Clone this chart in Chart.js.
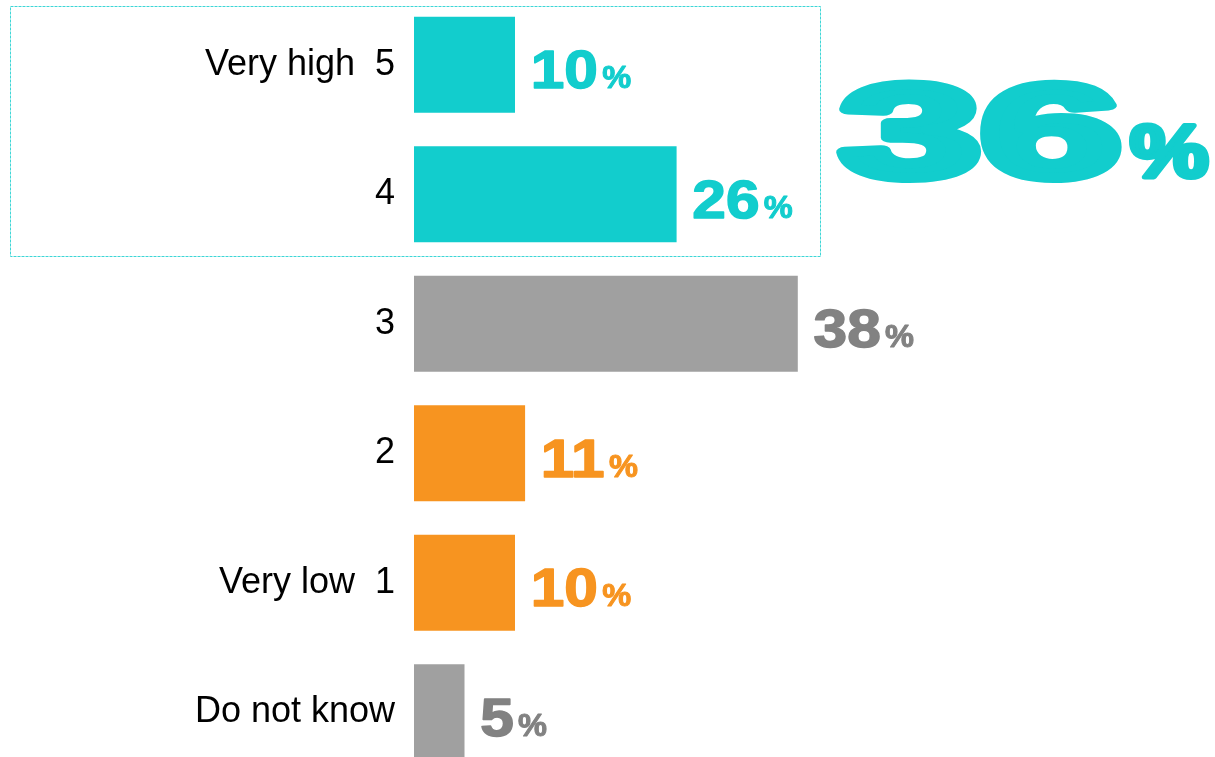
<!DOCTYPE html>
<html>
<head>
<meta charset="utf-8">
<script src="https://cdn.jsdelivr.net/npm/chart.js@4/dist/chart.umd.min.js"></script>
<style>
  html, body { margin: 0; padding: 0; overflow: hidden; background: #fff; }
  canvas { display: block; }
</style>
</head>
<body>
<canvas id="chart" width="1215" height="777"></canvas>
<script>
// ── Data ──────────────────────────────────────────────────────────────────────
const categories = ['Very high  5', '4', '3', '2', 'Very low  1', 'Do not know'];
const values     = [10, 26, 38, 11, 10, 5];
const groups     = ['high', 'high', 'mid', 'low', 'low', 'mid'];

// ── Styles ────────────────────────────────────────────────────────────────────
const FONT = 'Arial, "Liberation Sans", sans-serif';
const BAR_COLORS   = { high: '#12cdcd', mid: '#a0a0a0', low: '#f79420' };
const LABEL_COLORS = { high: '#12cdcd', mid: '#828282', low: '#f79420' };

// sum of the top-two-box answers
const highTotal = values.filter((v, i) => groups[i] === 'high').reduce((a, b) => a + b, 0);

// heavy text: stretched horizontally and thickened with a stroke, returns drawn width
function drawHeavy(ctx, text, x, y, font, sx, weight, color) {
  ctx.save();
  ctx.font = font;
  ctx.fillStyle = color;
  ctx.strokeStyle = color;
  ctx.lineJoin = 'round';
  ctx.textAlign = 'left';
  ctx.textBaseline = 'alphabetic';
  ctx.translate(x + weight / 2, y - weight / 2);
  ctx.scale(sx, 1);
  ctx.fillText(text, 0, 0);
  if (weight > 0) {
    ctx.lineWidth = weight;
    ctx.strokeText(text, 0, 0);
  }
  const w = ctx.measureText(text).width * sx + weight;
  ctx.restore();
  return w;
}

// ── Value labels, frame and total ─────────────────────────────────────────────
const valueLabels = {
  id: 'valueLabels',
  afterDatasetsDraw(chart) {
    const ctx  = chart.ctx;
    const bars = chart.getDatasetMeta(0).data;

    bars.forEach((bar, i) => {
      const color = LABEL_COLORS[groups[i]];
      const x = bar.x + 15;
      const y = bar.y + 24;
      const w = drawHeavy(ctx, String(values[i]), x, y, `bold 53px ${FONT}`, 1.14, 1.5, color);
      drawHeavy(ctx, '%', x + w + 3, y, `bold 31px ${FONT}`, 1.05, 1, color);
    });

    // dotted frame around the two top bars
    const b0 = bars[0], b1 = bars[1];
    const top    = Math.round(b0.y - b0.height / 2 - 11) + 0.5;
    const bottom = Math.round(b1.y + b1.height / 2 + 14) + 0.5;
    ctx.save();
    ctx.strokeStyle = '#3ed6d6';
    ctx.lineWidth = 1;
    ctx.setLineDash([3, 1]);
    ctx.strokeRect(10.5, top, 810, bottom - top);
    ctx.restore();

    // big total next to the frame
    const mid = (b0.y + b1.y) / 2;
    const w = drawHeavy(ctx, String(highTotal), 835, mid + 52, `bold 131px ${FONT}`, 1.93, 10, BAR_COLORS.high);
    drawHeavy(ctx, '%', 835 + w + 1, mid + 50, `bold 74px ${FONT}`, 1.2, 5, BAR_COLORS.high);
  },
};

// ── Chart ─────────────────────────────────────────────────────────────────────
new Chart(document.getElementById('chart'), {
  type: 'bar',
  data: {
    labels: categories,
    datasets: [{
      data: values,
      backgroundColor: values.map((_, i) => BAR_COLORS[groups[i]]),
      barPercentage: 0.74,
      categoryPercentage: 1,
    }],
  },
  options: {
    indexAxis: 'y',
    responsive: false,
    animation: false,
    layout: { padding: { left: 0, top: 0, right: 195, bottom: 0 } },
    plugins: {
      legend: { display: false },
      tooltip: { enabled: false },
    },
    scales: {
      x: { display: false, min: 0, max: 60 },
      y: {
        grid: { display: false, drawTicks: false },
        border: { display: false },
        ticks: { color: '#000', padding: 19, font: { family: FONT, size: 36 } },
        afterFit(scale) {
          scale.width = 414;
          // bars run edge to edge, no room reserved for half labels
          scale.paddingTop = 0;
          scale.paddingBottom = 0;
        },
      },
    },
  },
  plugins: [valueLabels],
});
</script>
</body>
</html>
